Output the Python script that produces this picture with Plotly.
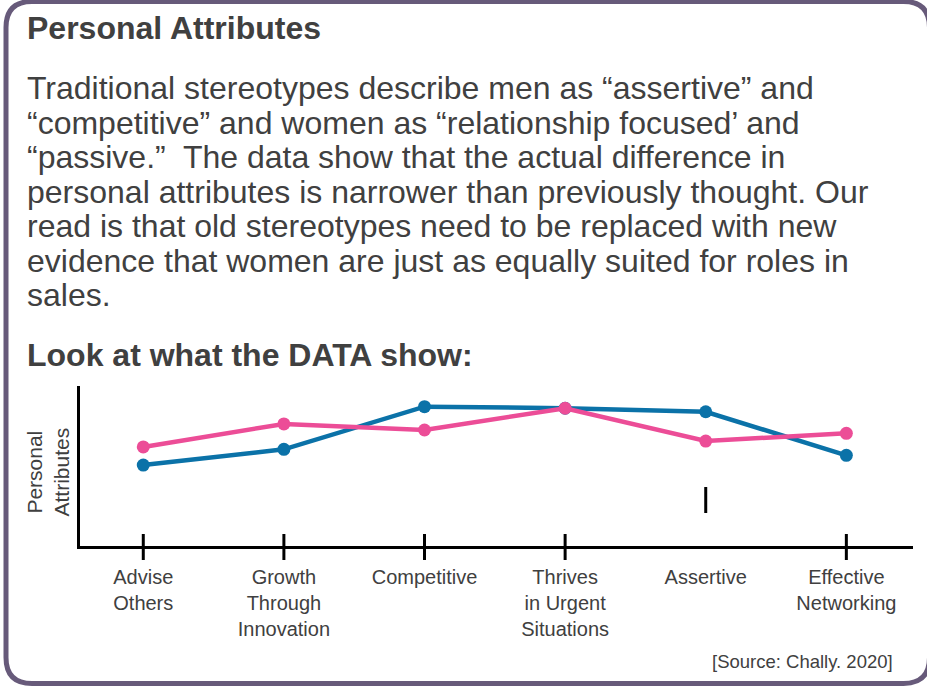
import plotly.graph_objects as go

categories = ["Advise<br>Others", "Growth<br>Through<br>Innovation", "Competitive",
              "Thrives<br>in Urgent<br>Situations", "Assertive", "Effective<br>Networking"]
blue_values = [50.6, 60.4, 87.1, 86.1, 83.9, 56.7]
pink_values = [61.9, 76.3, 72.5, 86.1, 65.6, 70.4]
blue_name = "Men"
pink_name = "Women"

title_text = "Personal Attributes"
paragraph_lines = [
    "Traditional stereotypes describe men as “assertive” and",
    "“competitive” and women as “relationship focused’ and",
    "“passive.”\u00a0 The data show that the actual difference in",
    "personal attributes is narrower than previously thought. Our",
    "read is that old stereotypes need to be replaced with new",
    "evidence that women are just as equally suited for roles in",
    "sales.",
]
subtitle_text = "Look at what the DATA show:"
yaxis_title = "Personal<br>Attributes"
source_text = "[Source: Chally. 2020]"

W, H = 927, 688
ML, MR, MT, MB = 80, 14, 386, 142
PW, PH = W - ML - MR, H - MT - MB
FONT = "Liberation Sans, Arial, Helvetica, sans-serif"
TXT = "#404040"
BLUE = "#0b72a8"
PINK = "#ec4d97"
BORDER = "#675a7a"


def px(x):
    return (x - ML) / PW


def py(y):
    return (H - MB - y) / PH


fig = go.Figure()
fig.add_trace(go.Scatter(x=categories, y=blue_values, name=blue_name, mode="lines+markers",
                         line=dict(color=BLUE, width=4.5), marker=dict(color=BLUE, size=13)))
fig.add_trace(go.Scatter(x=categories, y=pink_values, name=pink_name, mode="lines+markers",
                         line=dict(color=PINK, width=4.5), marker=dict(color=PINK, size=13)))

shapes = []
# tick marks crossing the x axis (Assertive tick is displaced above the axis)
for c in categories:
    if c == "Assertive":
        y0, y1 = py(513), py(487)
    else:
        y0, y1 = py(560), py(534)
    shapes.append(dict(type="line", xref="x", yref="paper", x0=c, x1=c, y0=y0, y1=y1,
                       line=dict(color="black", width=3)))

# rounded border box
L, R, T, B, r = 6, 929.5, 1.5, 683.5, 26
path = (f"M {px(L+r)},{py(T)} L {px(R-r)},{py(T)} Q {px(R)},{py(T)} {px(R)},{py(T+r)} "
        f"L {px(R)},{py(B-r)} Q {px(R)},{py(B)} {px(R-r)},{py(B)} "
        f"L {px(L+r)},{py(B)} Q {px(L)},{py(B)} {px(L)},{py(B-r)} "
        f"L {px(L)},{py(T+r)} Q {px(L)},{py(T)} {px(L+r)},{py(T)} Z")
shapes.append(dict(type="path", xref="paper", yref="paper", path=path,
                   line=dict(color=BORDER, width=5), layer="below"))

annotations = []
annotations.append(dict(text=f"<b>{title_text}</b>", x=px(25), y=py(39 - 11.1), xref="paper", yref="paper",
                        xanchor="left", yanchor="middle", showarrow=False,
                        font=dict(family=FONT, size=32, color=TXT)))
for i, line in enumerate(paragraph_lines):
    annotations.append(dict(text=line, x=px(25), y=py(99.5 + 34.5 * i - 11.1), xref="paper", yref="paper",
                            xanchor="left", yanchor="middle", showarrow=False,
                            font=dict(family=FONT, size=32, color=TXT)))
annotations.append(dict(text=f"<b>{subtitle_text}</b>", x=px(25), y=py(366 - 11.1), xref="paper", yref="paper",
                        xanchor="left", yanchor="middle", showarrow=False,
                        font=dict(family=FONT, size=32, color=TXT)))
annotations.append(dict(text=yaxis_title, x=px(47.5), y=py(472), xref="paper", yref="paper",
                        xanchor="center", yanchor="middle", textangle=-90, showarrow=False,
                        font=dict(family=FONT, size=21, color=TXT)))
annotations.append(dict(text=source_text, x=px(895), y=py(668 - 6.2), xref="paper", yref="paper",
                        xanchor="right", yanchor="middle", showarrow=False,
                        font=dict(family=FONT, size=18.5, color=TXT)))

fig.update_layout(
    template="none",
    width=W, height=H,
    margin=dict(l=ML, r=MR, t=MT, b=MB, pad=0),
    paper_bgcolor="white", plot_bgcolor="white",
    showlegend=False,
    shapes=shapes,
    annotations=annotations,
    xaxis=dict(type="category", range=[-0.45, 5.474], showgrid=False, zeroline=False,
               showline=True, linecolor="black", linewidth=3, ticks="",
               tickfont=dict(family=FONT, size=20, color=TXT), automargin=False,
               ticklabelstandoff=11, fixedrange=True),
    yaxis=dict(range=[0, 100], showgrid=False, zeroline=False, showline=True,
               linecolor="black", linewidth=3, ticks="", showticklabels=False,
               automargin=False, fixedrange=True),
)

fig.write_html("out.html", config=dict(displayModeBar=False),
               post_script="document.body.style.margin='0px';document.body.style.overflow='hidden';")
